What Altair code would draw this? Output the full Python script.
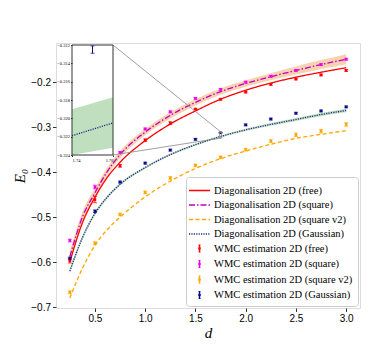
import altair as alt
import pandas as pd

# ---------------- data ----------------
D_LINE = [0.25, 0.375, 0.5, 0.625, 0.75, 1.0, 1.25, 1.5, 1.75, 2.0, 2.25, 2.5, 2.75, 3.0]
DIAG_FREE = [-0.600, -0.513, -0.456, -0.411, -0.378, -0.330, -0.293, -0.264, -0.238, -0.218, -0.202, -0.189, -0.178, -0.168]
DIAG_SQUARE = [-0.588, -0.500, -0.446, -0.398, -0.361, -0.311, -0.274, -0.245, -0.221, -0.203, -0.188, -0.174, -0.161, -0.149]
DIAG_SQUARE_V2 = [-0.680, -0.614, -0.563, -0.527, -0.500, -0.455, -0.420, -0.392, -0.370, -0.353, -0.338, -0.325, -0.316, -0.308]
DIAG_GAUSS = [-0.620, -0.546, -0.492, -0.455, -0.427, -0.390, -0.361, -0.339, -0.321, -0.306, -0.294, -0.283, -0.272, -0.263]
BAND_SQUARE_HALF = [0.012, 0.011, 0.010, 0.009, 0.008, 0.007, 0.007, 0.007, 0.007, 0.007, 0.008, 0.009, 0.010, 0.011]
BAND_GAUSS_HALF = [0.006, 0.005, 0.004, 0.0035, 0.003, 0.0025, 0.0023, 0.0022, 0.0022, 0.0025, 0.003, 0.0033, 0.0036, 0.004]

D_WMC = [0.25, 0.5, 0.75, 1.0, 1.25, 1.5, 1.75, 2.0, 2.25, 2.5, 2.75, 3.0]
WMC_FREE = [-0.597, -0.461, -0.386, -0.329, -0.291, -0.260, -0.238, -0.222, -0.205, -0.193, -0.184, -0.174]
WMC_SQUARE = [-0.552, -0.433, -0.356, -0.304, -0.266, -0.236, -0.216, -0.200, -0.187, -0.174, -0.161, -0.149]
WMC_SQUARE_V2 = [-0.667, -0.558, -0.494, -0.445, -0.413, -0.385, -0.367, -0.350, -0.331, -0.317, -0.309, -0.294]
WMC_GAUSS = [-0.592, -0.487, -0.422, -0.380, -0.351, -0.327, -0.3125, -0.295, -0.282, -0.269, -0.264, -0.255]
ERR_FREE = [0.005, 0.007, 0.003, 0.003, 0.003, 0.002, 0.002, 0.002, 0.002, 0.002, 0.002, 0.002]
ERR_SQUARE = [0.003, 0.004, 0.002, 0.002, 0.002, 0.002, 0.002, 0.002, 0.002, 0.002, 0.002, 0.002]
ERR_SQUARE_V2 = [0.003, 0.003, 0.003, 0.003, 0.003, 0.003, 0.003, 0.003, 0.003, 0.004, 0.004, 0.004]
ERR_GAUSS = [0.003, 0.003, 0.002, 0.002, 0.002, 0.002, 0.0004, 0.002, 0.002, 0.002, 0.002, 0.002]

# inset (zoom window)
INSET_X = [1.74, 1.76]
INSET_Y = [-0.324, -0.312]
INSET_X_TICKS = [1.74, 1.76]
INSET_Y_TICKS = [-0.324, -0.322, -0.320, -0.318, -0.316, -0.314, -0.312]
INSET_LINE = [-0.3219, -0.3205]
INSET_BAND_LO = [-0.3240, -0.3232]
INSET_BAND_HI = [-0.3190, -0.3177]

SERIES = [
    "Diagonalisation 2D (free)",
    "Diagonalisation 2D (square)",
    "Diagonalisation 2D (square v2)",
    "Diagonalisation 2D (Gaussian)",
    "WMC estimation 2D (free)",
    "WMC estimation 2D (square)",
    "WMC estimation 2D (square v2)",
    "WMC estimation 2D (Gaussian)",
]
X_TICKS = [0.5, 1.0, 1.5, 2.0, 2.5, 3.0]
Y_TICKS = [-0.7, -0.6, -0.5, -0.4, -0.3, -0.2]

# ---------------- styles / layout ----------------
COLORS = ["#ff0000", "#c000c0", "#ffa500", "#1c2a8c", "#ff0000", "#ee00ee", "#ffa500", "#0a0a8a"]
DASHES = [[1, 0], [6, 2, 1.5, 2], [4, 2.5], [1.2, 1.2], [1, 0], [1, 0], [1, 0], [1, 0]]
LINE_SYM = "M-1.4,0L1.4,0"
EB_SYM = "M0,-0.45L0,0.45M-0.13,-0.45L0.13,-0.45M-0.13,0.45L0.13,0.45M-0.08,-0.08L0.08,-0.08L0.08,0.08L-0.08,0.08Z"

W, H = 304, 265
X_DOM = [0.1125, 3.1375]
Y_DOM = [-0.702, -0.113]
INSET_PX = dict(left=16, right=57, top=2, bottom=112)
FONT = "Liberation Serif"


def px_to_x(p):
    return X_DOM[0] + p / W * (X_DOM[1] - X_DOM[0])


def px_to_y(p):
    return Y_DOM[1] - p / H * (Y_DOM[1] - Y_DOM[0])


# ---------------- tables ----------------
lines_df = pd.concat([
    pd.DataFrame({"d": D_LINE, "E": vals, "series": name})
    for vals, name in zip([DIAG_FREE, DIAG_SQUARE, DIAG_SQUARE_V2, DIAG_GAUSS], SERIES[:4])
])
peach_df = pd.DataFrame({"d": D_LINE,
                         "lo": [v - h for v, h in zip(DIAG_SQUARE, BAND_SQUARE_HALF)],
                         "hi": [v + h for v, h in zip(DIAG_SQUARE, BAND_SQUARE_HALF)]})
green_df = pd.DataFrame({"d": D_LINE,
                         "lo": [v - h for v, h in zip(DIAG_GAUSS, BAND_GAUSS_HALF)],
                         "hi": [v + h for v, h in zip(DIAG_GAUSS, BAND_GAUSS_HALF)]})
wmc_df = pd.concat([
    pd.DataFrame({"d": D_WMC, "E": vals,
                  "lo": [v - e for v, e in zip(vals, errs)],
                  "hi": [v + e for v, e in zip(vals, errs)],
                  "series": name})
    for vals, errs, name in zip([WMC_FREE, WMC_SQUARE, WMC_SQUARE_V2, WMC_GAUSS],
                                [ERR_FREE, ERR_SQUARE, ERR_SQUARE_V2, ERR_GAUSS], SERIES[4:])
])
legend_df = pd.DataFrame({
    "series": SERIES,
    "d": [D_LINE[0]] * 4 + [D_WMC[0]] * 4,
    "E": [DIAG_FREE[0], DIAG_SQUARE[0], DIAG_SQUARE_V2[0], DIAG_GAUSS[0],
          WMC_FREE[0], WMC_SQUARE[0], WMC_SQUARE_V2[0], WMC_GAUSS[0]],
})
zoom_rect_df = pd.DataFrame({"x": [INSET_X[0]], "x2": [INSET_X[1]], "y": [INSET_Y[0]], "y2": [INSET_Y[1]]})
conn_df = pd.DataFrame({
    "x": [px_to_x(INSET_PX["right"]), px_to_x(INSET_PX["right"])],
    "y": [px_to_y(INSET_PX["top"]), px_to_y(INSET_PX["bottom"])],
    "x2": [INSET_X[1], INSET_X[1]],
    "y2": [INSET_Y[1], INSET_Y[0]],
})

# ---------------- scales ----------------
xs = alt.Scale(domain=X_DOM, nice=False, zero=False)
ys = alt.Scale(domain=Y_DOM, nice=False, zero=False)
xaxis = alt.Axis(values=X_TICKS, format=".1f", title="d", grid=False, domain=False,
                 tickSize=3.5, tickColor="#333", labelPadding=2, titleFont=FONT,
                 titleFontStyle="italic", titleFontWeight="normal", titleFontSize=15, titlePadding=2)
yaxis = alt.Axis(values=Y_TICKS, format=".1f", title="E₀", grid=False, domain=False,
                 tickSize=3.5, tickColor="#333", labelPadding=2, titleFont=FONT,
                 titleFontStyle="italic", titleFontWeight="normal", titleFontSize=15, titlePadding=3)
cscale = alt.Scale(domain=SERIES, range=COLORS)
dscale = alt.Scale(domain=SERIES, range=DASHES)

X = alt.X("d:Q", scale=xs, axis=xaxis)
Y = alt.Y("E:Q", scale=ys, axis=yaxis)

band_peach = alt.Chart(peach_df).mark_area(color="#f4a460", opacity=0.5, interpolate="monotone").encode(
    x=X, y=alt.Y("lo:Q", scale=ys, axis=yaxis), y2="hi:Q")
band_green = alt.Chart(green_df).mark_area(color="green", opacity=0.25, interpolate="monotone").encode(
    x=X, y=alt.Y("lo:Q", scale=ys, axis=yaxis), y2="hi:Q")
lines = alt.Chart(lines_df).mark_line(strokeWidth=1.3, interpolate="monotone").encode(
    x=X, y=Y,
    color=alt.Color("series:N", scale=cscale, legend=None),
    strokeDash=alt.StrokeDash("series:N", scale=dscale, legend=None))
bars = alt.Chart(wmc_df).mark_rule(strokeWidth=1).encode(
    x=X, y=alt.Y("lo:Q", scale=ys, axis=yaxis), y2="hi:Q",
    color=alt.Color("series:N", scale=cscale, legend=None))
caps_lo = alt.Chart(wmc_df).mark_tick(orient="horizontal", size=4, thickness=1).encode(
    x=X, y=alt.Y("lo:Q", scale=ys, axis=yaxis),
    color=alt.Color("series:N", scale=cscale, legend=None))
caps_hi = alt.Chart(wmc_df).mark_tick(orient="horizontal", size=4, thickness=1).encode(
    x=X, y=alt.Y("hi:Q", scale=ys, axis=yaxis),
    color=alt.Color("series:N", scale=cscale, legend=None))
pts = alt.Chart(wmc_df).mark_square(size=7, opacity=1).encode(
    x=X, y=Y, color=alt.Color("series:N", scale=cscale, legend=None))
zoom_rect = alt.Chart(zoom_rect_df).mark_rect(fill=None, stroke="#888", strokeWidth=0.8).encode(
    x=alt.X("x:Q", scale=xs, axis=xaxis), x2="x2:Q", y=alt.Y("y:Q", scale=ys, axis=yaxis), y2="y2:Q")
connectors = alt.Chart(conn_df).mark_rule(color="#888", strokeWidth=0.8).encode(
    x=alt.X("x:Q", scale=xs, axis=xaxis), x2="x2:Q", y=alt.Y("y:Q", scale=ys, axis=yaxis), y2="y2:Q")

# legend: symbol shape / dash chosen per entry
shape_expr = "indexof(datum.value, 'WMC') === 0 ? '%s' : '%s'" % (EB_SYM, LINE_SYM)
dash_expr = " : ".join(
    "datum.value === '%s' ? [%s]" % (s, ",".join(str(v) for v in dsh))
    for s, dsh in zip(SERIES[1:4], DASHES[1:4])
) + " : [1,0]"

leg = alt.Legend(title=None, orient="none", legendX=130, legendY=134, symbolSize=225,
                 symbolStrokeWidth=1.3, labelFont=FONT, labelFontSize=10.5,
                 labelLimit=300, rowPadding=0.5, padding=5, fillColor="white", strokeColor="#ccc",
                 cornerRadius=3, labelOffset=6, symbolOpacity=1,
                 symbolType=alt.ExprRef(expr=shape_expr),
                 symbolDash=alt.ExprRef(expr=dash_expr))
legend_layer = alt.Chart(legend_df).mark_point(filled=False, opacity=0).encode(
    x=X, y=Y,
    color=alt.Color("series:N", scale=cscale, legend=leg))

data_layers = alt.layer(band_peach, band_green, lines, bars, caps_lo, caps_hi, pts, zoom_rect, connectors)
main = alt.layer(data_layers, legend_layer).resolve_scale(color="independent").resolve_legend(
    color="independent")

# ---------------- inset ----------------
ixs = alt.Scale(domain=INSET_X, range=[INSET_PX["left"], INSET_PX["right"]], nice=False, zero=False)
iys = alt.Scale(domain=INSET_Y, range=[INSET_PX["bottom"], INSET_PX["top"]], nice=False, zero=False)
ixaxis = alt.Axis(orient="bottom", offset=-(H - INSET_PX["bottom"]), values=INSET_X_TICKS, format=".2f",
                  title=None, grid=False, domain=False, tickSize=1.5, labelFontSize=4.5, labelPadding=1,
                  labelFont=FONT, tickColor="#333", zindex=1)
iyaxis = alt.Axis(orient="left", offset=-INSET_PX["left"], values=INSET_Y_TICKS, format=".3f",
                  title=None, grid=False, domain=False, tickSize=1.5, labelFontSize=4.5, labelPadding=1,
                  labelFont=FONT, tickColor="#333", zindex=1)
IX = alt.X("d:Q", scale=ixs, axis=ixaxis)

inset_frame_df = pd.DataFrame({"d": [INSET_X[0]], "d2": [INSET_X[1]], "lo": [INSET_Y[0]], "hi": [INSET_Y[1]]})
inset_band_df = pd.DataFrame({"d": INSET_X, "lo": INSET_BAND_LO, "hi": INSET_BAND_HI, "E": INSET_LINE})
inset_pt_df = pd.DataFrame({"d": [D_WMC[6]], "E": [WMC_GAUSS[6]],
                            "lo": [WMC_GAUSS[6] - ERR_GAUSS[6]], "hi": [WMC_GAUSS[6] + ERR_GAUSS[6]]})

inset_frame = alt.Chart(inset_frame_df).mark_rect(fill="white", stroke="#333", strokeWidth=1).encode(
    x=IX, x2="d2:Q", y=alt.Y("lo:Q", scale=iys, axis=iyaxis), y2="hi:Q")
inset_band = alt.Chart(inset_band_df).mark_area(color="green", opacity=0.25).encode(
    x=IX, y=alt.Y("lo:Q", scale=iys, axis=iyaxis), y2="hi:Q")
inset_line = alt.Chart(inset_band_df).mark_line(color=COLORS[3], strokeWidth=1.3, strokeDash=DASHES[3]).encode(
    x=IX, y=alt.Y("E:Q", scale=iys, axis=iyaxis))
inset_bar = alt.Chart(inset_pt_df).mark_rule(color=COLORS[7], strokeWidth=1).encode(
    x=IX, y=alt.Y("lo:Q", scale=iys, axis=iyaxis), y2="hi:Q")
inset_cap_lo = alt.Chart(inset_pt_df).mark_tick(orient="horizontal", size=4, thickness=1, color=COLORS[7]).encode(
    x=IX, y=alt.Y("lo:Q", scale=iys, axis=iyaxis))
inset_cap_hi = alt.Chart(inset_pt_df).mark_tick(orient="horizontal", size=4, thickness=1, color=COLORS[7]).encode(
    x=IX, y=alt.Y("hi:Q", scale=iys, axis=iyaxis))

inset = alt.layer(inset_frame, inset_band, inset_line, inset_bar, inset_cap_lo, inset_cap_hi)

chart = alt.layer(main, inset).resolve_scale(x="independent", y="independent").properties(
    width=W, height=H,
    padding={"left": 4, "top": 34, "right": 5, "bottom": 5},
).configure_view(stroke="#555", strokeWidth=1).configure_axis(
    labelFont=FONT, labelFontSize=10, labelColor="black"
).configure(background="white")

chart.save("out.html", embed_options={"renderer": "svg", "actions": False})
